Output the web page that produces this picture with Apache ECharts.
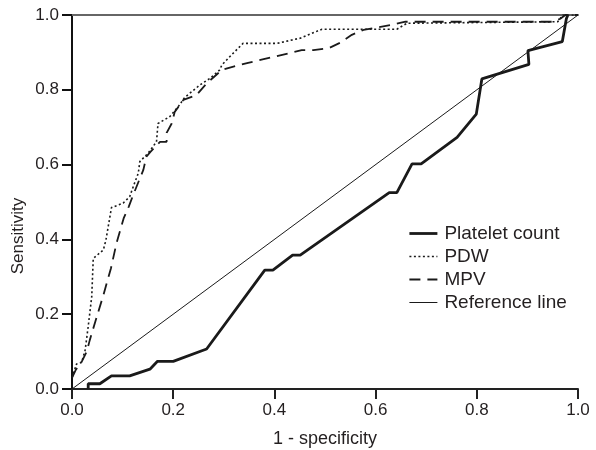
<!DOCTYPE html>
<html>
<head>
<meta charset="utf-8">
<script src="https://cdn.jsdelivr.net/npm/echarts@6/dist/echarts.min.js"></script>
<style>
html,body{margin:0;padding:0;background:#fff;}
#chart{width:596px;height:450px;}
</style>
</head>
<body>
<div id="chart"></div>
<script>
var seriesNames = ['Platelet count', 'PDW', 'MPV', 'Reference line'];
var axisTitles = ['1 - specificity', 'Sensitivity'];

var plateletCount = [[0.032,0],[0.032,0.014],[0.055,0.014],[0.078,0.035],[0.114,0.035],[0.154,0.053],[0.169,0.074],[0.2,0.074],[0.266,0.107],[0.381,0.318],[0.397,0.318],[0.436,0.358],[0.451,0.358],[0.627,0.525],[0.642,0.525],[0.672,0.602],[0.690,0.602],[0.761,0.673],[0.799,0.735],[0.81,0.829],[0.903,0.868],[0.901,0.905],[0.969,0.929],[0.977,0.99],[0.98,1.0]];

var pdw = [[0,0.03],[0.009,0.067],[0.019,0.071],[0.026,0.104],[0.032,0.167],[0.039,0.247],[0.042,0.349],[0.062,0.372],[0.067,0.398],[0.078,0.485],[0.101,0.497],[0.114,0.514],[0.121,0.541],[0.131,0.577],[0.134,0.608],[0.150,0.630],[0.167,0.661],[0.170,0.710],[0.193,0.728],[0.210,0.755],[0.223,0.780],[0.253,0.813],[0.273,0.831],[0.292,0.853],[0.296,0.866],[0.315,0.893],[0.338,0.924],[0.405,0.924],[0.451,0.938],[0.494,0.962],[0.642,0.962],[0.662,0.978],[0.96,0.982],[0.97,1.0],[1,1]];

var mpv = [[0,0.03],[0.007,0.05],[0.02,0.075],[0.029,0.1],[0.035,0.13],[0.046,0.18],[0.062,0.251],[0.077,0.323],[0.088,0.39],[0.102,0.456],[0.112,0.487],[0.121,0.519],[0.141,0.586],[0.147,0.621],[0.155,0.634],[0.174,0.661],[0.187,0.661],[0.187,0.685],[0.197,0.71],[0.203,0.741],[0.213,0.759],[0.22,0.773],[0.246,0.786],[0.266,0.817],[0.296,0.853],[0.319,0.862],[0.348,0.872],[0.405,0.89],[0.454,0.906],[0.477,0.906],[0.507,0.911],[0.530,0.926],[0.553,0.947],[0.576,0.96],[0.629,0.973],[0.659,0.982],[0.95,0.982],[0.965,0.99],[0.975,1],[1,1]];

var referenceLine = [[0,0],[1,1]];

var txt = '#231f20';
var ink = '#1a1a1a';
var font = 'Liberation Sans, Arial, sans-serif';

var lineStyles = [
  {color: ink, width: 2.8, type: 'solid'},
  {color: ink, width: 1.6, type: [2, 2.5]},
  {color: ink, width: 1.8, type: [11, 7]},
  {color: ink, width: 1, type: 'solid'}
];
var seriesData = [plateletCount, pdw, mpv, referenceLine];

var chart = echarts.init(document.getElementById('chart'), null, {renderer:'canvas'});
chart.setOption({
  animation: false,
  backgroundColor: '#fff',
  grid: {left: 72, right: 18, top: 15, bottom: 61, containLabel: false, outerBoundsMode: 'none'},
  legend: {
    orient: 'vertical', left: 408, top: 224, padding: 0,
    itemWidth: 28, itemHeight: 14, itemGap: 4,
    data: seriesNames.map(function(n, i){ return {name: n, lineStyle: lineStyles[i]}; }),
    itemStyle: {opacity: 0, borderWidth: 0},
    textStyle: {fontSize: 19, lineHeight: 19, color: txt, fontFamily: font, padding: [0, 0, 0, 2]}
  },
  graphic: [{
    type: 'text', rotation: Math.PI / 2, z: 10,
    style: {text: axisTitles[1], fontSize: 17, fill: txt, fontFamily: font, textAlign: 'center', textVerticalAlign: 'middle'},
    x: 18, y: 236
  }],
  xAxis: [{
    type: 'value', min: 0, max: 1, interval: 0.2,
    name: axisTitles[0], nameLocation: 'middle', nameGap: 41,
    nameTextStyle: {fontSize: 18, color: txt, fontFamily: font},
    axisLine: {lineStyle: {color: '#222', width: 2}},
    axisTick: {show: true, length: 10, inside: false, lineStyle: {color: '#222', width: 2}},
    axisLabel: {margin: 13, fontSize: 17, color: txt, fontFamily: font, formatter: function(v){return v.toFixed(1);}},
    splitLine: {show: false}
  }, {
    type: 'value', min: 0, max: 1, position: 'top',
    axisLine: {show: true, lineStyle: {color: '#666', width: 2.2}},
    axisTick: {show: false}, axisLabel: {show: false}, splitLine: {show: false}
  }],
  yAxis: {
    type: 'value', min: 0, max: 1, interval: 0.2,
    axisLine: {show: true, lineStyle: {color: '#111', width: 2}},
    axisTick: {show: true, length: 10, lineStyle: {color: '#111', width: 2}},
    axisLabel: {margin: 13, fontSize: 17, color: txt, fontFamily: font, formatter: function(v){return v.toFixed(1);}},
    splitLine: {show: false}
  },
  series: seriesNames.map(function(n, i){
    return {name: n, type: 'line', data: seriesData[i], symbol: 'none', showSymbol: false,
            lineStyle: lineStyles[i], itemStyle: {color: ink}};
  })
});
</script>
</body>
</html>
